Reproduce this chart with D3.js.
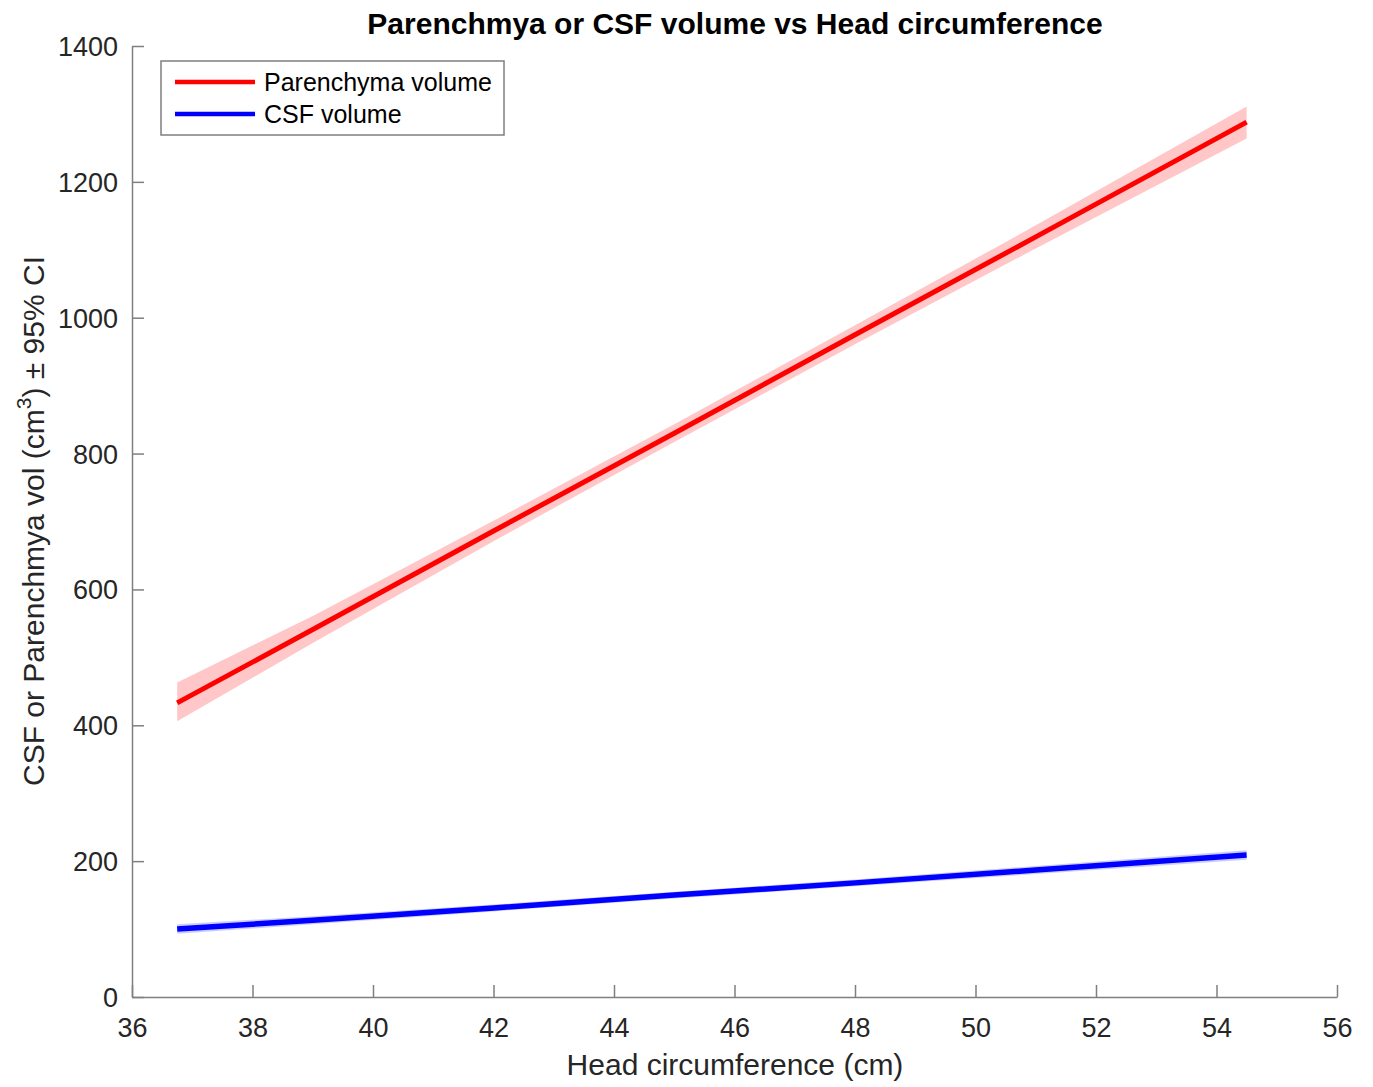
<!DOCTYPE html>
<html>
<head>
<meta charset="utf-8">
<script src="https://cdn.jsdelivr.net/npm/d3@7"></script>
<style>
  body { margin: 0; background: #fff; }
  text { font-family: "Liberation Sans", Arial, sans-serif; }
</style>
</head>
<body>
<script>
var w = 1373;
var h = 1087;

// fitted lines (head circumference in cm -> volume in cm^3)
var hc = [36.75, 39, 42, 45, 48, 51, 54.5];
var parenchyma = [433, 541, 686, 830, 975, 1119, 1288];
var parenchymaLow = [406, 521, 671, 817, 961, 1102, 1264];
var parenchymaHigh = [463, 561, 701, 843, 989, 1136, 1311];
var csf = [100, 113, 131, 150, 168, 187, 209];
var csfLow = [93, 107, 126, 145, 163, 181, 202];
var csfHigh = [107, 119, 136, 155, 173, 193, 216];

var xTicks = [36, 38, 40, 42, 44, 46, 48, 50, 52, 54, 56];
var yTicks = [0, 200, 400, 600, 800, 1000, 1200, 1400];

var margin = {left: 132, right: 36, top: 46, bottom: 90};

var svg = d3.select("body").append("svg")
    .attr("width", w)
    .attr("height", h);

var x = d3.scaleLinear().domain([36, 56]).range([margin.left, w - margin.right]);
var y = d3.scaleLinear().domain([0, 1400]).range([h - margin.bottom, margin.top]);

function band(lo, hi) {
  return d3.area()
    .x(function(d, i) { return x(hc[i]); })
    .y0(function(d, i) { return y(lo[i]); })
    .y1(function(d, i) { return y(hi[i]); });
}
var line = d3.line()
    .x(function(d, i) { return x(hc[i]); })
    .y(function(d) { return y(d); });

svg.append("path").datum(hc).attr("d", band(parenchymaLow, parenchymaHigh))
   .attr("fill", "#ff0000").attr("fill-opacity", 0.22);
svg.append("path").datum(hc).attr("d", band(csfLow, csfHigh))
   .attr("fill", "#0000ff").attr("fill-opacity", 0.2);

svg.append("path").datum(parenchyma).attr("d", line)
   .attr("fill", "none").attr("stroke", "#ff0000").attr("stroke-width", 5);
svg.append("path").datum(csf).attr("d", line)
   .attr("fill", "none").attr("stroke", "#0000ff").attr("stroke-width", 5.5);

// axes
var xAxis = svg.append("g")
    .attr("transform", "translate(0," + (h - margin.bottom) + ")")
    .call(d3.axisBottom(x).tickValues(xTicks).tickFormat(d3.format("d"))
      .tickSizeInner(-12).tickSizeOuter(0).tickPadding(17));
var yAxis = svg.append("g")
    .attr("transform", "translate(" + margin.left + ",0)")
    .call(d3.axisLeft(y).tickValues(yTicks).tickFormat(d3.format("d"))
      .tickSizeInner(-12).tickSizeOuter(0).tickPadding(14));

[xAxis, yAxis].forEach(function(g) {
  g.select(".domain").attr("stroke", "#7f7f7f").attr("stroke-width", 1.5);
  g.selectAll(".tick line").attr("stroke", "#7f7f7f").attr("stroke-width", 1.5);
  g.selectAll(".tick text").attr("fill", "#262626").attr("font-size", "27px")
   .attr("font-family", "Liberation Sans, Arial, sans-serif");
});
xAxis.selectAll(".tick text").attr("dy", "0.85em");
yAxis.selectAll(".tick text").attr("dy", "0.35em");

// title and axis labels
svg.append("text")
   .attr("x", 735).attr("y", 34)
   .attr("text-anchor", "middle")
   .attr("font-size", "30px").attr("font-weight", "bold").attr("fill", "#000")
   .text("Parenchmya or CSF volume vs Head circumference");

svg.append("text")
   .attr("x", 735).attr("y", 1075)
   .attr("text-anchor", "middle")
   .attr("font-size", "30px").attr("fill", "#262626")
   .text("Head circumference (cm)");

var yl = svg.append("text")
   .attr("transform", "translate(44,521) rotate(-90)")
   .attr("text-anchor", "middle")
   .attr("font-size", "30px").attr("fill", "#262626");
yl.append("tspan").text("CSF or Parenchmya vol (cm");
yl.append("tspan").attr("dy", "-13").attr("font-size", "21px").text("3");
yl.append("tspan").attr("dy", "13").text(") \u00b1 95% CI");

// legend
var legendNames = ["Parenchyma volume", "CSF volume"];
var legendColors = ["#ff0000", "#0000ff"];
var lg = svg.append("g");
lg.append("rect")
  .attr("x", 161).attr("y", 61).attr("width", 343).attr("height", 74)
  .attr("fill", "#fff").attr("stroke", "#7f7f7f").attr("stroke-width", 1.5);
legendNames.forEach(function(name, i) {
  var ly = 82 + i * 32;
  lg.append("line")
    .attr("x1", 175).attr("x2", 255).attr("y1", ly).attr("y2", ly)
    .attr("stroke", legendColors[i]).attr("stroke-width", 4.5);
  lg.append("text")
    .attr("x", 264).attr("y", ly).attr("dy", "0.35em")
    .attr("font-size", "25px").attr("fill", "#000")
    .text(name);
});
</script>
</body>
</html>
